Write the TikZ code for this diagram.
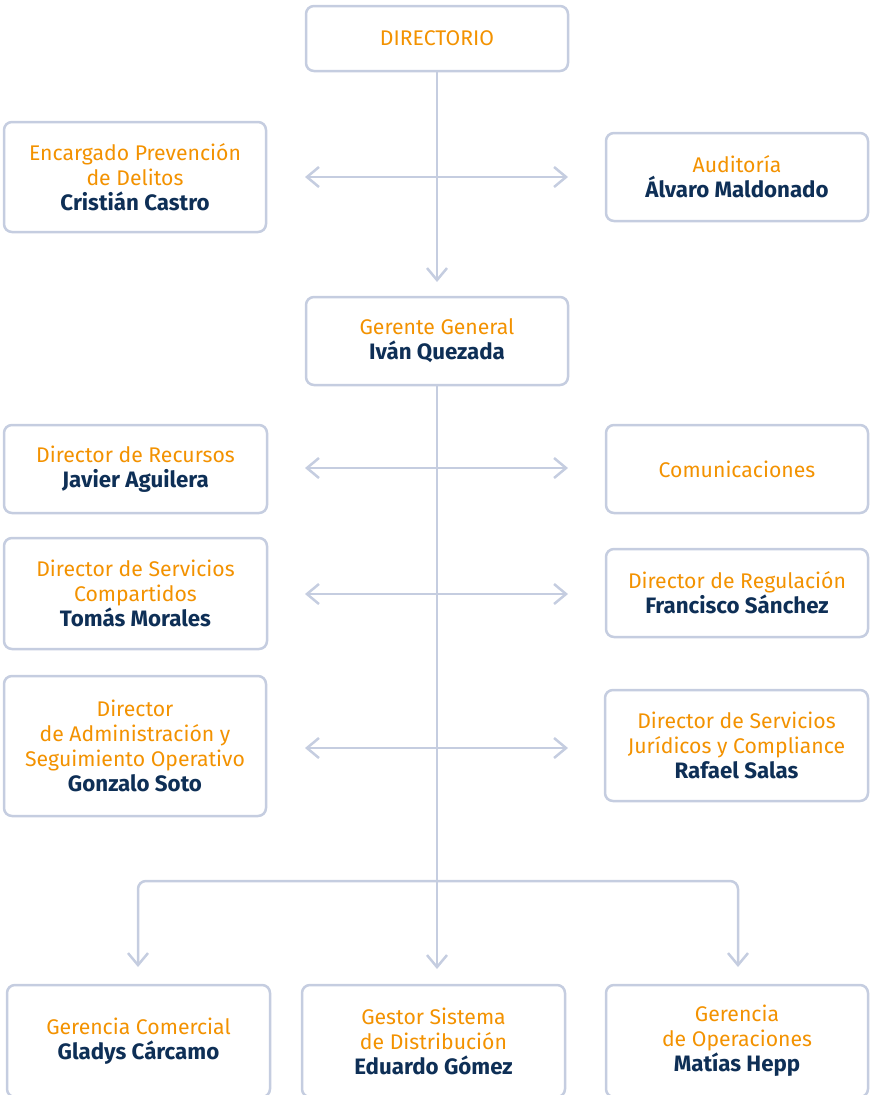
\documentclass[tikz,border=0pt]{standalone}
\usepackage{fontspec}
\setmainfont{Fira Sans}
\usetikzlibrary{arrows.meta}
\definecolor{borderc}{HTML}{C5CDE0}
\definecolor{orangec}{HTML}{F39200}
\definecolor{navyc}{HTML}{0E2F56}
\tikzset{
  box/.style={draw=borderc, line width=2.5pt, rounded corners=8pt, fill=white,
    align=center, inner sep=0pt, font=\fontsize{21.2}{25}\selectfont, text=orangec},
  conn/.style={draw=borderc, line width=2.5pt},
  arr/.style={-{Straight Barb[length=12pt,width=20pt,line width=2.5pt]}},
  darr/.style={{Straight Barb[length=12pt,width=20pt,line width=2.5pt]}-{Straight Barb[length=12pt,width=20pt,line width=2.5pt]}},
}
\newcommand{\nm}[1]{{\fontsize{22.3}{25}\selectfont\textcolor{navyc}{\bfseries #1}}}
\begin{document}
\begin{tikzpicture}[x=1pt,y=-1pt]
\useasboundingbox (0,0) rectangle (871,1095);
% boxes
\node[box, minimum width=262pt, minimum height=65pt] (dir) at (437,38.5) {DIRECTORIO};
\node[box, minimum width=262pt, minimum height=110pt] (enc) at (135,177) {Encargado Prevención\\de Delitos\\\nm{Cristián Castro}};
\node[box, minimum width=262pt, minimum height=88pt] (aud) at (737,177) {Auditoría\\\nm{Álvaro Maldonado}};
\node[box, minimum width=262pt, minimum height=88pt] (ger) at (437,341) {Gerente General\\\nm{Iván Quezada}};
\node[box, minimum width=263pt, minimum height=88pt] (rec) at (135.5,469) {Director de Recursos\\\nm{Javier Aguilera}};
\node[box, minimum width=262pt, minimum height=88pt] (com) at (737,469) {Comunicaciones};
\node[box, minimum width=263pt, minimum height=111pt] (ser) at (135.5,593.5) {Director de Servicios\\Compartidos\\\nm{Tomás Morales}};
\node[box, minimum width=262pt, minimum height=88pt] (reg) at (737,593) {Director de Regulación\\\nm{Francisco Sánchez}};
\node[box, minimum width=262pt, minimum height=140pt] (adm) at (135,746) {Director\\de Administración y\\Seguimiento Operativo\\\nm{Gonzalo Soto}};
\node[box, minimum width=263pt, minimum height=111pt] (jur) at (736.5,745.5) {Director de Servicios\\Jurídicos y Compliance\\\nm{Rafael Salas}};
\node[box, minimum width=263pt, minimum height=112pt] (gc) at (138.5,1041) {Gerencia Comercial\\\nm{Gladys Cárcamo}};
\node[box, minimum width=263pt, minimum height=112pt] (gs) at (433.5,1041) {Gestor Sistema\\de Distribución\\\nm{Eduardo Gómez}};
\node[box, minimum width=262pt, minimum height=112pt] (go) at (737,1041) {Gerencia\\de Operaciones\\\nm{Matías Hepp}};
% coordinates
\coordinate (a1l) at (305,177); \coordinate (a1r) at (568,177);
\coordinate (a2l) at (305,468); \coordinate (a2r) at (568,468);
\coordinate (a3l) at (305,594); \coordinate (a3r) at (568,594);
\coordinate (a4l) at (305,748); \coordinate (a4r) at (568,748);
\coordinate (gtop) at (437,282);
\coordinate (bl) at (138,967); \coordinate (bm) at (437,969); \coordinate (br) at (738,967);
\coordinate (junc) at (437,881);
% connectors
\draw[conn, arr] (dir.south) -- (gtop);
\draw[conn, darr] (a1l) -- (a1r);
\draw[conn] (ger.south) -- (437,748);
\draw[conn, arr] (437,748) -- (bm);
\draw[conn, darr] (a2l) -- (a2r);
\draw[conn, darr] (a3l) -- (a3r);
\draw[conn, darr] (a4l) -- (a4r);
\draw[conn, arr, rounded corners=8pt] (junc) -| (bl);
\draw[conn, arr, rounded corners=8pt] (junc) -| (br);
\end{tikzpicture}
\end{document}
